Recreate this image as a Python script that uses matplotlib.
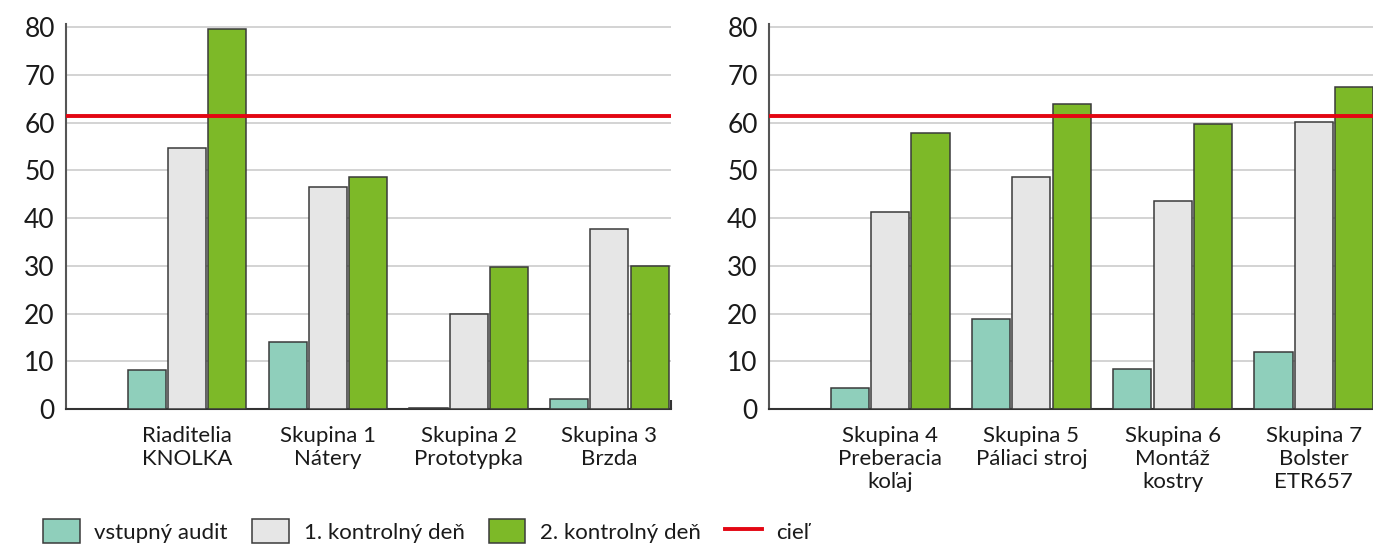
import matplotlib.pyplot as plt
import numpy as np

plt.rcParams['font.family'] = ['Lato', 'DejaVu Sans']

# data
left_cats = ['Riaditelia\nKNOLKA', 'Skupina 1\nNátery', 'Skupina 2\nPrototypka', 'Skupina 3\nBrzda']
left_audit = [8.2, 14.1, 0.3, 2.0]
left_kd1 = [54.8, 46.6, 20.0, 37.8]
left_kd2 = [79.6, 48.7, 29.8, 30.0]

right_cats = ['Skupina 4\nPreberacia\nkoľaj', 'Skupina 5\nPáliaci stroj', 'Skupina 6\nMontáž\nkostry', 'Skupina 7\nBolster\nETR657']
right_audit = [4.4, 18.9, 8.4, 12.0]
right_kd1 = [41.2, 48.7, 43.7, 60.1]
right_kd2 = [57.8, 64.0, 59.7, 67.6]

target = 61.5
series_names = ['vstupný audit', '1. kontrolný deň', '2. kontrolný deň']
target_name = 'cieľ'

colors = ['#8fcfbb', '#e6e6e6', '#7db928']
red = '#e30613'
edge = '#3a3a3a'

fig = plt.figure(figsize=(13.73, 5.46), dpi=100)
ax1 = fig.add_axes([0.048, 0.251, 0.441, 0.705])
ax2 = fig.add_axes([0.560, 0.251, 0.440, 0.705])

w = 0.27
step = 0.285


def draw(ax, cats, audit, kd1, kd2, xright, right_tick):
    x = np.arange(len(cats))
    bars = []
    for k, vals in enumerate([audit, kd1, kd2]):
        b = ax.bar(x + (k - 1) * step, vals, w, color=colors[k], edgecolor=edge,
                   linewidth=1.1, zorder=3, label=series_names[k])
        bars.append(b)
    ln = ax.axhline(target, color=red, lw=2.8, zorder=4, label=target_name)
    ax.set_xlim(-0.86, xright)
    ax.set_ylim(0, 80.7)
    ax.set_yticks(range(0, 81, 10))
    ax.set_xticks(x)
    ax.set_xticklabels(cats, fontsize=16, color='#1a1a1a', linespacing=1.2)
    ax.tick_params(axis='x', length=0, pad=12)
    ax.tick_params(axis='y', length=0, pad=8, labelsize=19, labelcolor='#1a1a1a')
    ax.grid(axis='y', color='#cccccc', lw=1.2, zorder=0)
    for s in ['top', 'right']:
        ax.spines[s].set_visible(False)
    ax.spines['left'].set_color('#555555')
    ax.spines['bottom'].set_color('#333333')
    ax.spines['left'].set_linewidth(1.5)
    ax.spines['bottom'].set_linewidth(1.5)
    if right_tick:
        ax.set_xticks([xright], minor=True)
        ax.tick_params(axis='x', which='minor', direction='in', length=6.5, width=1.5, color='#333333')
    return bars, ln


bars, ln = draw(ax1, left_cats, left_audit, left_kd1, left_kd2, 3.44, True)
draw(ax2, right_cats, right_audit, right_kd1, right_kd2, 3.42, False)

fig.legend(handles=bars + [ln], labels=series_names + [target_name], loc='center left',
           bbox_to_anchor=(0.017, 0.027), ncol=4, frameon=False, fontsize=16,
           handlelength=1.65, handleheight=1.3, columnspacing=1.1, handletextpad=0.65,
           labelcolor='#1a1a1a')

fig.savefig('out.png', dpi=100)
